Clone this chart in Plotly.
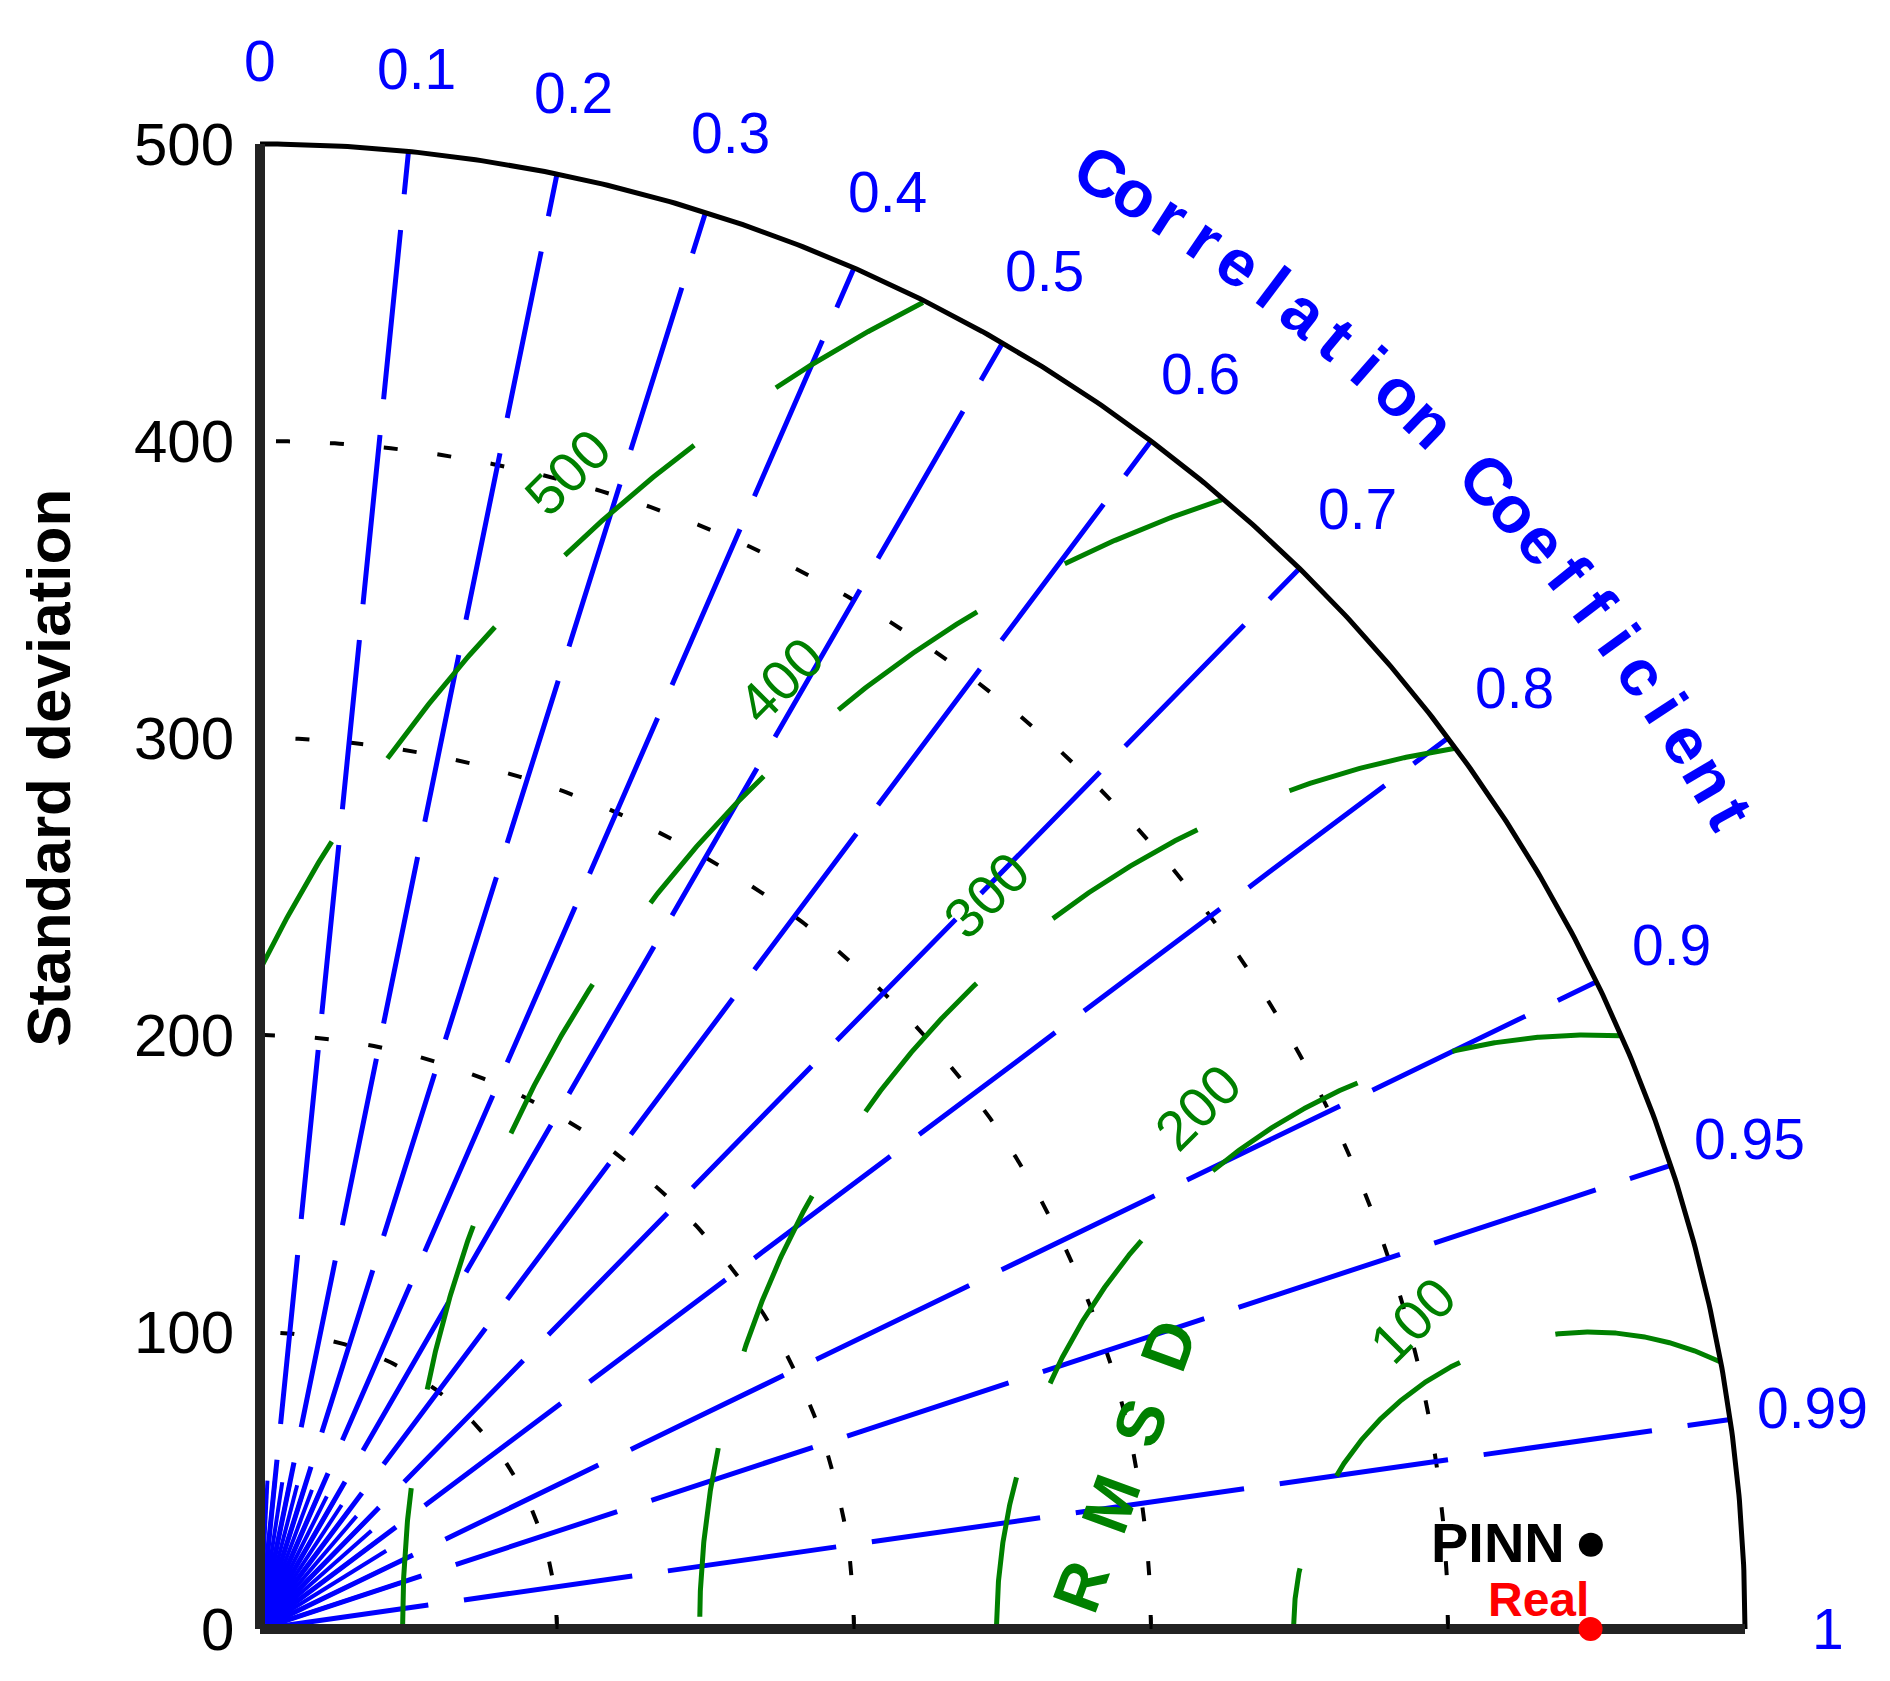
import numpy as np
import plotly.graph_objects as go

# Taylor diagram values
std_ticks = [0, 100, 200, 300, 400, 500]
corr_ticks = [0, 0.1, 0.2, 0.3, 0.4, 0.5, 0.6, 0.7, 0.8, 0.9, 0.95, 0.99, 1]
corr_labels = ["0", "0.1", "0.2", "0.3", "0.4", "0.5", "0.6", "0.7", "0.8", "0.9", "0.95", "0.99", "1"]
corr_lines = [0.1, 0.2, 0.3, 0.4, 0.5, 0.6, 0.7, 0.8, 0.9, 0.95, 0.99]
std_arcs = [100, 200, 300, 400]
rmsd_arcs = [100, 200, 300, 400, 500]
rmsd_label_angle = [120, 127, 129.5, 130.5, 131.5]
model_names = ["PINN", "Real"]
model_std = [449, 448]
model_corr = [0.998, 1.0]
model_colors = ["black", "red"]
max_std = 500

# pixel mapping (origin at 252,1621 ; 2.97 px per unit)
W, H = 1890, 1681
ox, oy, s = 252, 1621, 2.97

fig = go.Figure()
t = np.linspace(0, np.pi / 2, 400)

# std dev arcs (black dotted)
for r in std_arcs:
    fig.add_trace(go.Scatter(x=r * np.cos(t), y=r * np.sin(t), mode="lines",
                             line=dict(color="black", width=4, dash="14px,40px"),
                             hoverinfo="skip", showlegend=False))

# correlation lines (blue dashed)
for c in corr_lines:
    a = np.arccos(c)
    fig.add_trace(go.Scatter(x=[0, max_std * np.cos(a)], y=[0, max_std * np.sin(a)], mode="lines",
                             line=dict(color="blue", width=5, dash="170px,36px"),
                             hoverinfo="skip", showlegend=False))
# minor fan near origin
for c in np.arange(0.05, 1.0, 0.05):
    a = np.arccos(c)
    fig.add_trace(go.Scatter(x=[0, 50 * np.cos(a)], y=[0, 50 * np.sin(a)], mode="lines",
                             line=dict(color="blue", width=4),
                             hoverinfo="skip", showlegend=False))

# RMSD arcs centred at reference
ref = model_std[1]
for r in rmsd_arcs:
    th = np.linspace(0, np.pi, 1500)
    xs = ref + r * np.cos(th)
    ys = r * np.sin(th)
    m = (xs ** 2 + ys ** 2 <= max_std ** 2) & (xs >= 0)
    fig.add_trace(go.Scatter(x=xs[m], y=ys[m], mode="lines",
                             line=dict(color="green", width=5, dash="170px,100px"),
                             hoverinfo="skip", showlegend=False))

# outer arc
fig.add_trace(go.Scatter(x=max_std * np.cos(t), y=max_std * np.sin(t), mode="lines",
                         line=dict(color="black", width=5), hoverinfo="skip", showlegend=False))
# axes
fig.add_trace(go.Scatter(x=[0, 0], y=[0, max_std], mode="lines",
                         line=dict(color="#222", width=10), hoverinfo="skip", showlegend=False))
fig.add_trace(go.Scatter(x=[0, max_std], y=[0, 0], mode="lines",
                         line=dict(color="#222", width=10), hoverinfo="skip", showlegend=False))
for v in std_ticks[1:-1]:
    fig.add_trace(go.Scatter(x=[v, v], y=[0, 4], mode="lines", line=dict(color="black", width=3),
                             hoverinfo="skip", showlegend=False))

# markers
for name, sd, c, col in zip(model_names, model_std, model_corr, model_colors):
    a = np.arccos(c)
    fig.add_trace(go.Scatter(x=[sd * np.cos(a)], y=[sd * np.sin(a)], mode="markers",
                             marker=dict(color=col, size=24), showlegend=False))

ann = []
F = "Liberation Sans, Arial"
for v in std_ticks:
    ann.append(dict(x=-8, y=v, text=str(v), showarrow=False, xanchor="right",
                    font=dict(size=60, color="black", family=F)))
for c, lab in zip(corr_ticks, corr_labels):
    a = np.arccos(c)
    ann.append(dict(x=528 * np.cos(a), y=528 * np.sin(a), text=lab, showarrow=False,
                    font=dict(size=57, color="blue", family=F)))
# curved title
title = "Correlation Coefficient"
angs = np.linspace(60, 29, len(title))
for ch, ad in zip(title, angs):
    a = np.radians(ad)
    ann.append(dict(x=566 * np.cos(a), y=566 * np.sin(a), text="<b>%s</b>" % ch, showarrow=False,
                    textangle=90 - ad, font=dict(size=66, color="blue", family=F)))
# RMSD labels
for r, ad in zip(rmsd_arcs, rmsd_label_angle):
    a = np.radians(ad)
    ann.append(dict(x=ref + (r + 20) * np.cos(a), y=(r + 20) * np.sin(a), text=str(r), showarrow=False,
                    textangle=-45, font=dict(size=56, color="green", family=F)))
ann.append(dict(x=291, y=55, text="<b>R  M  S  D</b>", showarrow=False, textangle=-70,
                font=dict(size=66, color="green", family=F)))
ann.append(dict(x=-71, y=290, text="<b>Standard deviation</b>", showarrow=False, textangle=-90,
                font=dict(size=62, color="black", family=F)))
ann.append(dict(x=440, y=29, text="<b>PINN</b>", showarrow=False, xanchor="right",
                font=dict(size=56, color="black", family=F)))
ann.append(dict(x=448, y=10, text="<b>Real</b>", showarrow=False, xanchor="right",
                font=dict(size=48, color="red", family=F)))

fig.update_layout(
    width=W, height=H, margin=dict(l=0, r=0, t=0, b=0),
    plot_bgcolor="white", paper_bgcolor="white",
    xaxis=dict(range=[-ox / s, (W - ox) / s], visible=False),
    yaxis=dict(range=[-(H - oy) / s, oy / s], visible=False),
    annotations=ann,
)
fig.write_html("out.html")
